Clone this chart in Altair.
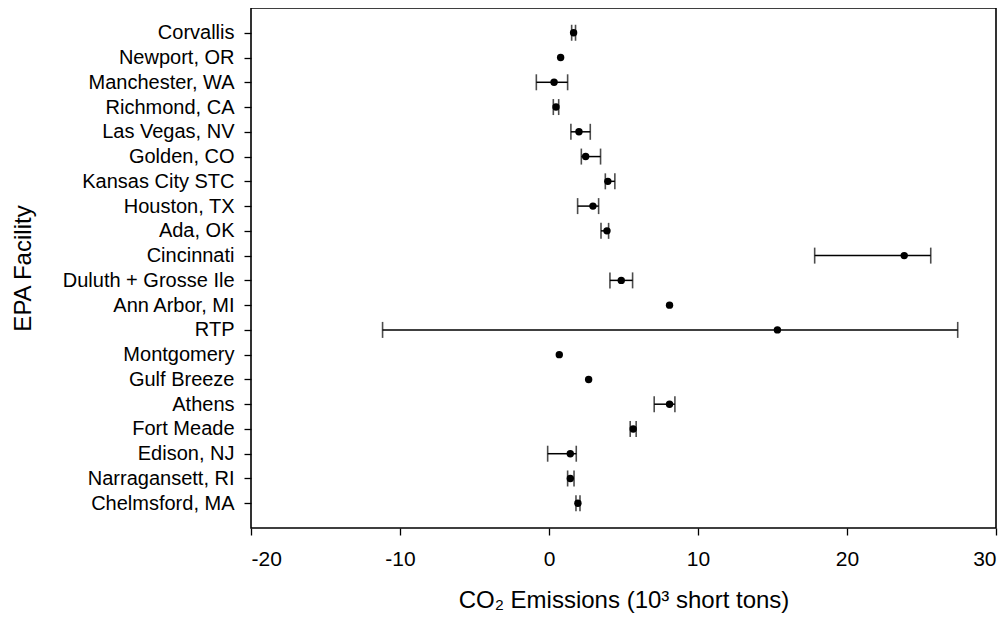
import altair as alt
import pandas as pd

facilities = [
    "Corvallis", "Newport, OR", "Manchester, WA", "Richmond, CA", "Las Vegas, NV",
    "Golden, CO", "Kansas City STC", "Houston, TX", "Ada, OK", "Cincinnati",
    "Duluth + Grosse Ile", "Ann Arbor, MI", "RTP", "Montgomery", "Gulf Breeze",
    "Athens", "Fort Meade", "Edison, NJ", "Narragansett, RI", "Chelmsford, MA",
]
values = [1.65, 0.78, 0.34, 0.47, 2.01, 2.46, 3.95, 2.95, 3.89, 23.84,
          4.85, 8.09, 15.33, 0.69, 2.66, 8.09, 5.65, 1.43, 1.43, 1.94]
lower = [1.52, None, -0.85, 0.29, 1.47, 2.17, 3.78, 1.92, 3.49, 17.83,
         4.09, None, -11.17, None, None, 7.06, 5.45, -0.09, 1.25, 1.81]
upper = [1.78, None, 1.25, 0.65, 2.77, 3.46, 4.42, 3.33, 4.00, 25.62,
         5.61, None, 27.43, None, None, 8.45, 5.85, 1.83, 1.68, 2.08]
x_ticks = [-20, -10, 0, 10, 20, 30]

df = pd.DataFrame({"facility": facilities, "value": values, "lo": lower, "hi": upper})
err = df.dropna(subset=["lo", "hi"])

FONT = "Liberation Sans"

y_enc = alt.Y(
    "facility:N",
    sort=facilities,
    scale=alt.Scale(type="point", padding=1),
    axis=alt.Axis(
        title="EPA Facility",
        titleFontSize=24, titleFont=FONT, titleFontWeight="normal", titleColor="black",
        titleX=-221, titleBaseline="alphabetic",
        labelFontSize=20, labelFont=FONT, labelColor="black", labelPadding=10,
        tickSize=7, tickColor="black", tickWidth=1.3, domain=False,
    ),
)
x_scale = alt.Scale(domain=[-20, 30], nice=False, zero=False)
x_axis = alt.Axis(
    title="CO₂ Emissions (10³ short tons)",
    titleFontSize=24, titleFont=FONT, titleFontWeight="normal", titleColor="black",
    titleY=79, titleBaseline="alphabetic",
    values=x_ticks,
    labelExpr="datum.value < 0 ? '-' + abs(datum.value) : '' + datum.value",
    labelFontSize=21, labelFont=FONT, labelColor="black", labelPadding=13,
    tickSize=7, tickColor="black", tickWidth=1.3, domain=False, grid=False,
)

base_err = alt.Chart(err)
rules = base_err.mark_rule(color="black", strokeWidth=1.5).encode(
    x=alt.X("lo:Q", scale=x_scale, axis=x_axis), x2="hi:Q", y=y_enc
)
cap_lo = base_err.mark_tick(color="black", size=16, thickness=1.6).encode(
    x=alt.X("lo:Q", scale=x_scale), y=y_enc
)
cap_hi = base_err.mark_tick(color="black", size=16, thickness=1.6).encode(
    x=alt.X("hi:Q", scale=x_scale), y=y_enc
)
points = alt.Chart(df).mark_circle(color="black", size=55, opacity=1).encode(
    x=alt.X("value:Q", scale=x_scale, axis=x_axis), y=y_enc
)

chart = (
    alt.layer(rules, cap_lo, cap_hi, points)
    .properties(
        width=745, height=520,
        background="white",
        autosize=alt.AutoSizeParams(type="none"),
        padding={"left": 243, "top": 0, "right": 4, "bottom": 86},
    )
    .configure_view(stroke="black", strokeWidth=1.6)
)

chart.save("out.html", embed_options={"renderer": "svg", "actions": False})
